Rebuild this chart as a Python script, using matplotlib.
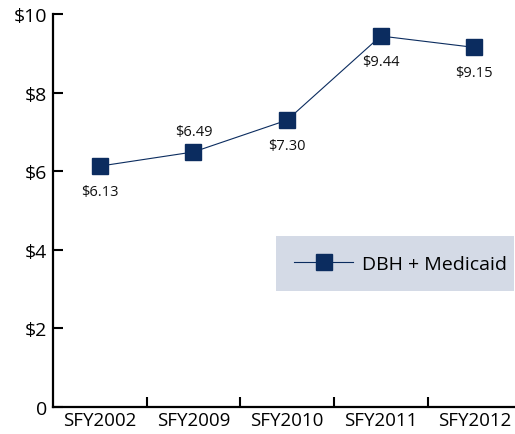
import matplotlib.pyplot as plt

years = ['SFY2002', 'SFY2009', 'SFY2010', 'SFY2011', 'SFY2012']
values = [6.13, 6.49, 7.30, 9.44, 9.15]
labels = ['$6.13', '$6.49', '$7.30', '$9.44', '$9.15']
label_above = [False, True, False, False, False]
yticks = [0, 2, 4, 6, 8, 10]
ytick_labels = ['0', '$2', '$4', '$6', '$8', '$10']

navy = '#0b2c5f'
plt.rcParams['font.family'] = ['Open Sans', 'DejaVu Sans']

fig = plt.figure(figsize=(5.15, 4.35), dpi=100)
ax = fig.add_axes([0.103, 0.062, 0.909, 0.9035])

x = list(range(len(years)))
ax.plot(x, values, color=navy, linewidth=0.8, marker='s', markersize=11,
        label='DBH + Medicaid')

for xi, v, lab, up in zip(x, values, labels, label_above):
    ax.annotate(lab, (xi, v), xytext=(0, 15 if up else -18), textcoords='offset points',
                ha='center', va='center', fontsize=10.5, color='#111111')

ax.set_xlim(-0.5, 4.5)
ax.set_ylim(0, 10)
ax.set_yticks(yticks)
ax.set_yticklabels(ytick_labels, fontsize=14)
ax.set_xticks(x)
ax.set_xticklabels(years, fontsize=13.5)
ax.tick_params(axis='x', length=0, pad=3)
ax.set_xticks([0.5, 1.5, 2.5, 3.5], minor=True)
ax.tick_params(axis='x', which='minor', direction='in', length=7, width=1.5)
ax.tick_params(axis='y', direction='in', length=7, width=1.5, pad=4)

for s in ['top', 'right']:
    ax.spines[s].set_visible(False)
for s in ['left', 'bottom']:
    ax.spines[s].set_linewidth(1.6)

leg = ax.legend(loc='upper left', bbox_to_anchor=(0.476, 0.295, 0.509, 0.14), mode='expand',
                fontsize=14, frameon=True, fancybox=False, borderpad=0.95,
                handlelength=3.0, handletextpad=0.5, borderaxespad=0)
leg.get_frame().set_facecolor('#d4dae6')
leg.get_frame().set_edgecolor('none')
leg.get_frame().set_alpha(1)

fig.savefig('out.png', dpi=100)
